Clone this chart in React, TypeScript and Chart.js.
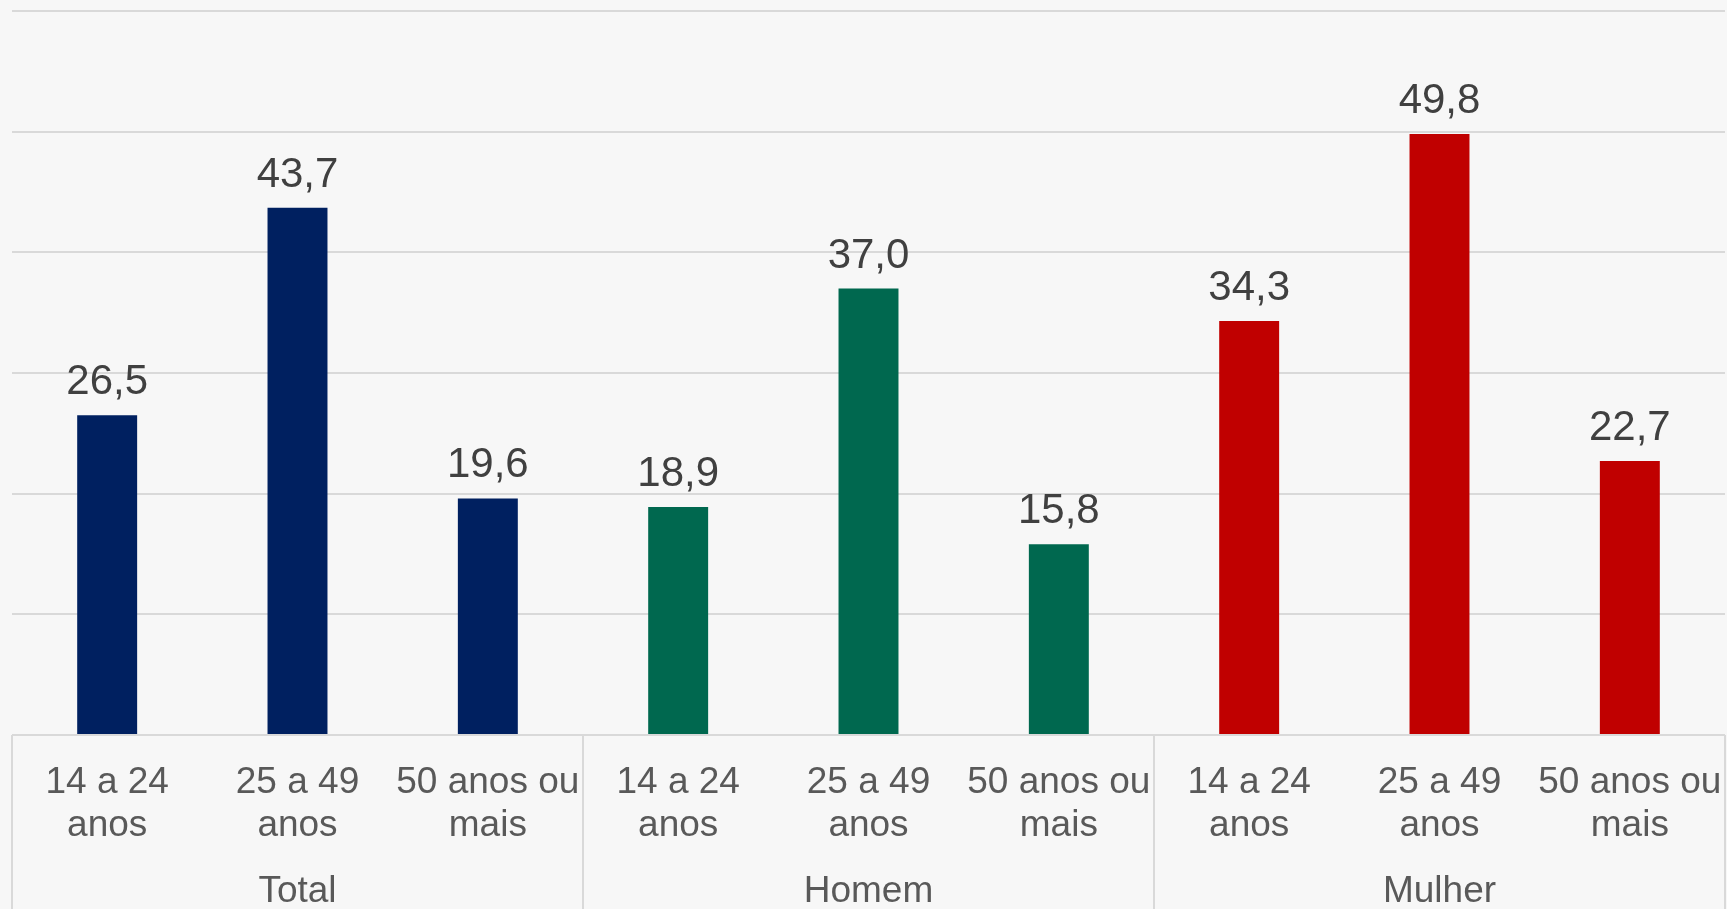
import React, { useEffect, useRef } from "react";
import { Chart, registerables } from "chart.js";

Chart.register(...registerables);

const categories: string[][] = [
  ["14 a 24", "anos"], ["25 a 49", "anos"], ["50 anos ou", "mais"],
  ["14 a 24", "anos"], ["25 a 49", "anos"], ["50 anos ou", "mais"],
  ["14 a 24", "anos"], ["25 a 49", "anos"], ["50 anos ou", "mais"],
];
const groups: string[] = ["Total", "Homem", "Mulher"];
const values: number[] = [26.5, 43.7, 19.6, 18.9, 37.0, 15.8, 34.3, 49.8, 22.7];
const groupColors: string[] = ["#002060", "#00684F", "#C00000"];
const yTicks = { min: 0, max: 60, step: 10 };

const FONT = "'Liberation Sans', Arial, sans-serif";
const GRID = "#d9d9d9";

const barColors = values.map((_, i) => groupColors[Math.floor(i / 3)]);

const valueLabelPlugin = {
  id: "valueLabels",
  afterDatasetsDraw(chart: any) {
    const ctx = chart.ctx;
    const meta = chart.getDatasetMeta(0);
    ctx.save();
    ctx.font = `42px ${FONT}`;
    ctx.fillStyle = "#404040";
    ctx.textAlign = "center";
    ctx.textBaseline = "alphabetic";
    meta.data.forEach((bar: any, i: number) => {
      const txt = values[i].toFixed(1).replace(".", ",");
      ctx.fillText(txt, bar.x, bar.y - 21);
    });
    ctx.restore();
  },
};

const separatorPlugin = {
  id: "separators",
  afterDraw(chart: any) {
    const ctx = chart.ctx;
    const x = chart.scales.x;
    const area = chart.chartArea;
    const bounds = [-0.5, 2.5, 5.5, 8.5];
    ctx.save();
    ctx.strokeStyle = GRID;
    ctx.lineWidth = 2;
    bounds.forEach((b) => {
      const px = Math.round(x.getPixelForValue(b));
      ctx.beginPath();
      ctx.moveTo(px, area.bottom);
      ctx.lineTo(px, chart.height);
      ctx.stroke();
    });
    ctx.restore();
  },
};

function noSidePadding(scale: any, h: number) {
  scale.height = h;
  scale.paddingLeft = 0;
  scale.paddingRight = 0;
}

export default function App() {
  const ref = useRef<HTMLCanvasElement | null>(null);
  useEffect(() => {
    if (!ref.current) return;
    const chart = new Chart(ref.current, {
      type: "bar",
      data: {
        labels: categories as any,
        datasets: [
          {
            data: values,
            backgroundColor: barColors,
            barPercentage: 0.315,
            categoryPercentage: 1,
            xAxisID: "x",
          },
        ],
      },
      options: {
        animation: false,
        responsive: false,
        maintainAspectRatio: false,
        layout: { padding: { left: 12, right: 2, top: 11, bottom: 0 } },
        plugins: { legend: { display: false }, tooltip: { enabled: false } },
        scales: {
          x: {
            type: "category",
            position: "bottom",
            grid: { display: false },
            border: { display: false },
            ticks: {
              autoSkip: false,
              maxRotation: 0,
              minRotation: 0,
              color: "#595959",
              font: { family: FONT, size: 37, lineHeight: 1.16 },
              padding: 18,
            },
            afterFit(scale: any) {
              noSidePadding(scale, 120);
            },
          },
          x2: {
            type: "category",
            position: "bottom",
            labels: groups,
            grid: { display: false },
            border: { display: false },
            ticks: {
              color: "#595959",
              font: { family: FONT, size: 37, lineHeight: 1.16 },
              padding: 7,
            },
            afterFit(scale: any) {
              noSidePadding(scale, 54);
            },
          },
          y: {
            min: yTicks.min,
            max: yTicks.max,
            ticks: { stepSize: yTicks.step, display: false },
            border: { display: false },
            grid: { color: GRID, lineWidth: 2, drawTicks: false },
            afterFit(scale: any) {
              scale.width = 0;
            },
          },
        },
      },
      plugins: [valueLabelPlugin, separatorPlugin],
    });
    return () => chart.destroy();
  }, []);
  return (
    <div style={{ position: "fixed", left: 0, top: 0, width: 1727, height: 909, background: "#f7f7f7" }}>
      <canvas ref={ref} width={1727} height={909} style={{ display: "block" }} />
    </div>
  );
}
